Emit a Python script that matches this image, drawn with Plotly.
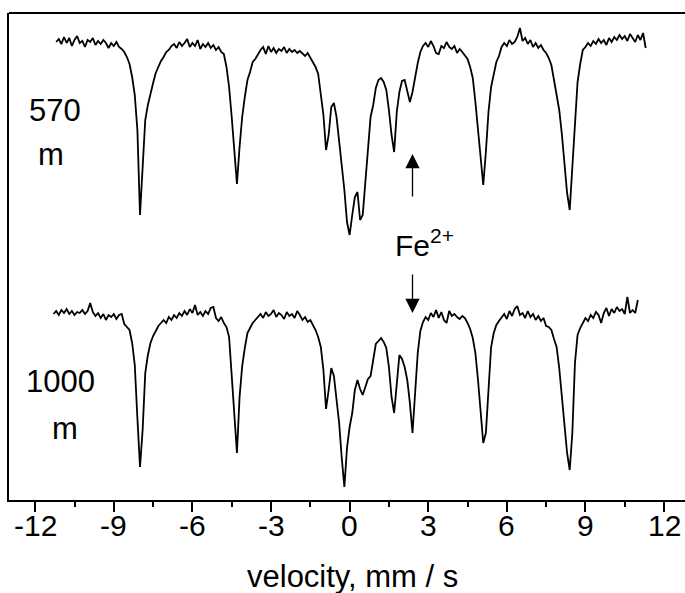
import numpy as np
import plotly.graph_objects as go

# ---------------- data ----------------
# velocity channels (mm/s)
vel_570 = np.round(np.arange(-11.2, 11.3001, 0.1), 1)
vel_1000 = np.round(np.arange(-11.3, 11.0001, 0.1), 1)

# relative transmission (%), 570 m sample
trans_570 = [
    100.0, 100.3, 99.8, 100.5, 99.9, 100.4, 99.6, 100.2, 100.6, 99.9,
    100.1, 99.5, 100.2, 100.0, 100.4, 99.7, 100.1, 99.8, 100.2, 99.9,
    99.4, 99.9, 99.6, 100.0, 99.5, 99.3, 99.0, 98.5, 97.8, 96.5,
    94.7, 91.2, 82.7, 88.2, 92.2, 93.7, 94.9, 95.9, 96.9, 97.6,
    98.1, 98.5, 99.0, 99.2, 99.6, 99.8, 99.4, 100.0, 99.6, 99.9,
    100.3, 99.5, 99.9, 99.6, 100.2, 99.3, 99.8, 99.5, 99.9, 99.4,
    99.7, 99.2, 99.5, 99.0, 98.8, 97.5, 95.5, 92.5, 89.0, 85.8,
    89.5, 92.5, 94.5, 96.2, 97.0, 98.0, 98.3, 98.8, 99.2, 99.5,
    98.8, 99.6, 99.0, 99.4, 98.9, 99.3, 99.1, 99.5, 98.9, 99.3,
    99.0, 99.2, 98.9, 99.1, 98.8, 98.6, 98.9, 98.4, 98.0, 97.5,
    96.8, 95.0, 92.7, 89.2, 90.7, 93.5, 93.9, 92.5, 90.2, 87.7,
    85.2, 82.0, 80.7, 82.7, 84.5, 85.0, 82.2, 82.7, 86.2, 89.7,
    92.5, 93.7, 95.4, 96.2, 96.4, 96.0, 95.2, 93.2, 90.7, 89.0,
    93.0, 95.0, 96.1, 96.2, 95.2, 94.0, 95.0, 96.5, 97.9, 99.0,
    99.6, 99.9, 99.5, 100.1, 99.6, 98.9, 98.8, 99.6, 99.4, 100.0,
    99.5, 99.3, 99.6, 98.9, 99.3, 99.0, 98.7, 98.3, 97.5, 96.4,
    94.0, 91.0, 88.0, 85.7, 89.0, 93.0, 95.5, 96.8, 98.0, 98.6,
    99.5, 99.9, 99.6, 100.2, 99.8, 100.0, 100.5, 101.4, 100.1, 100.4,
    99.8, 100.2, 99.5, 99.9, 99.4, 99.7, 99.2, 98.9, 98.4, 97.7,
    96.3, 95.0, 93.2, 90.8, 87.5, 84.9, 83.2, 87.5, 92.5, 96.0,
    97.8, 99.2, 99.5, 99.9, 99.6, 100.1, 99.8, 100.3, 99.9, 100.2,
    99.7, 100.4, 100.0, 100.5, 100.2, 100.7, 100.3, 100.6, 100.1, 100.8,
    100.4, 100.0, 100.7, 100.2, 100.9, 99.4,
]

# relative transmission (%), 1000 m sample
trans_1000 = [
    99.9, 100.2, 99.8, 100.3, 100.0, 100.4, 99.9, 100.2, 99.8, 100.1,
    100.0, 100.3, 99.9, 100.2, 101.0, 100.1, 99.7, 100.0, 99.5, 99.9,
    99.3, 99.8, 99.6, 99.9, 99.4, 99.8, 99.9, 98.9, 98.6, 98.3,
    97.0, 94.8, 89.5, 84.6, 88.3, 94.0, 95.8, 97.0, 97.7, 98.2,
    98.7, 99.0, 99.3, 99.0, 99.6, 99.3, 99.8, 99.5, 100.0, 99.7,
    100.2, 99.8, 100.4, 100.0, 100.8, 99.8, 100.1, 99.7, 100.2, 99.9,
    100.5, 100.6, 99.5, 99.2, 99.6, 99.0, 98.6, 97.6, 93.5, 89.0,
    86.0, 91.6, 94.7, 96.5, 98.0, 98.5, 99.0, 99.3, 99.6, 99.9,
    99.5, 100.1, 99.7, 99.9, 100.3, 99.6, 100.0, 99.8, 99.4, 100.1,
    99.7, 99.9, 99.5, 100.2, 99.8, 99.3, 99.6, 99.1, 99.3, 98.8,
    98.3, 97.6, 96.6, 94.3, 90.4, 92.3, 94.5, 93.7, 91.5, 89.0,
    85.5, 82.6, 86.5, 88.6, 90.0, 92.3, 93.3, 92.4, 91.8, 92.5,
    93.4, 93.7, 95.4, 96.9, 97.2, 97.5, 97.1, 96.5, 94.6, 91.6,
    90.0, 93.0, 95.8, 95.4, 94.6, 93.3, 91.0, 88.0, 92.0, 96.0,
    98.2, 99.1, 99.6, 99.3, 100.0, 99.6, 100.3, 99.5, 100.1, 99.3,
    99.0, 100.2, 99.7, 99.9, 99.6, 99.4, 99.7, 99.5, 99.0, 98.4,
    97.5, 96.0, 93.3, 90.0, 87.0, 88.0, 92.5, 96.6, 98.0, 98.8,
    99.2, 99.6, 99.9, 99.4, 100.2, 99.7, 100.4, 100.7, 99.8, 100.0,
    99.5, 100.2, 99.6, 99.9, 99.3, 99.7, 99.2, 99.5, 98.7, 98.6,
    98.3, 97.4, 96.6, 94.5, 91.5, 88.5, 86.0, 84.3, 88.0, 95.0,
    97.8, 98.5, 99.0, 99.5, 99.2, 99.8, 99.5, 100.1, 99.8, 99.0,
    100.0, 100.5, 99.7, 100.4, 100.0, 100.6, 100.2, 100.4, 99.9, 101.6,
    100.0, 100.3, 100.0, 101.3,
]

offset_1000 = 27.1  # vertical stacking offset of the lower spectrum

tick_vals = [-12, -9, -6, -3, 0, 3, 6, 9, 12]
tick_text = ["-12", "-9", "-6", "-3", "0", "3", "6", "9", "12"]

labels_top = ["570", "m"]
labels_bottom = ["1000", "m"]
ion_label = "Fe<sup>2+</sup>"
x_title = "velocity, mm / s"
fe_velocity = 2.4

# ---------------- figure ----------------
W, H = 685, 593
ML, MR, MT, MB = 9, 0, 13, 93
PW, PH = W - ML - MR, H - MT - MB
FONT = "Arial, Liberation Sans, sans-serif"


def px(x):
    return (x - ML) / PW


def py(y):
    return (H - MB - y) / PH


fig = go.Figure()
fig.add_trace(go.Scatter(x=vel_570, y=trans_570, mode="lines",
                         line=dict(color="black", width=1.8), showlegend=False))
fig.add_trace(go.Scatter(x=vel_1000, y=[v - offset_1000 for v in trans_1000],
                         mode="lines", line=dict(color="black", width=1.8),
                         showlegend=False))

ann = []
for txt, (x, y) in zip(labels_top, [(55, 111), (51, 154)]):
    ann.append(dict(text=txt, x=px(x), y=py(y), xref="paper", yref="paper",
                    showarrow=False, xanchor="center", yanchor="middle",
                    font=dict(size=31, color="black", family=FONT)))
for txt, (x, y) in zip(labels_bottom, [(60, 381), (65, 428)]):
    ann.append(dict(text=txt, x=px(x), y=py(y), xref="paper", yref="paper",
                    showarrow=False, xanchor="center", yanchor="middle",
                    font=dict(size=31, color="black", family=FONT)))
ann.append(dict(text=ion_label, x=px(424), y=py(243), xref="paper", yref="paper",
                showarrow=False, xanchor="center", yanchor="middle",
                font=dict(size=30, color="black", family=FONT)))
# tick labels (hyphen minus as in the original), placed on the x axis scale
for v, t in zip(tick_vals, tick_text):
    ann.append(dict(text=t, x=v, y=py(507), xref="x", yref="paper",
                    showarrow=False, xanchor="center", yanchor="top",
                    font=dict(size=30, color="black", family=FONT)))
# axis title
ann.append(dict(text=x_title, x=px(352), y=py(576), xref="paper", yref="paper",
                showarrow=False, xanchor="center", yanchor="middle",
                font=dict(size=31, color="black", family=FONT)))
# arrows pointing to the Fe2+ line in each spectrum
ann.append(dict(x=fe_velocity, y=88.8, ax=fe_velocity, ay=84.4, xref="x", yref="y",
                axref="x", ayref="y", text="", showarrow=True, arrowhead=2,
                arrowsize=2.2, arrowwidth=1.3, arrowcolor="black"))
ann.append(dict(x=fe_velocity, y=72.9, ax=fe_velocity, ay=76.9, xref="x", yref="y",
                axref="x", ayref="y", text="", showarrow=True, arrowhead=2,
                arrowsize=2.2, arrowwidth=1.3, arrowcolor="black"))

fig.update_layout(
    width=W, height=H,
    margin=dict(l=ML, r=MR, t=MT, b=MB, pad=0),
    paper_bgcolor="white", plot_bgcolor="white",
    font=dict(family=FONT, color="black", size=30),
    annotations=ann,
    shapes=[dict(type="line", xref="paper", yref="paper", x0=0, x1=1, y0=1, y1=1,
                 line=dict(color="black", width=2))],
    xaxis=dict(range=[-13.0, 12.8], tickmode="array", tickvals=tick_vals,
               showticklabels=False, ticks="outside", ticklen=10, tickwidth=2,
               tickcolor="black", showline=True, linecolor="black", linewidth=2,
               showgrid=False, zeroline=False,
               minor=dict(tickmode="linear", tick0=0, dtick=1.5, ticks="outside",
                          ticklen=5, tickwidth=2, tickcolor="black", showgrid=False)),
    yaxis=dict(range=[54.2, 102.9], showticklabels=False, ticks="", showgrid=False,
               zeroline=False, showline=True, linecolor="black", linewidth=2),
)

fig.write_html("out.html")
